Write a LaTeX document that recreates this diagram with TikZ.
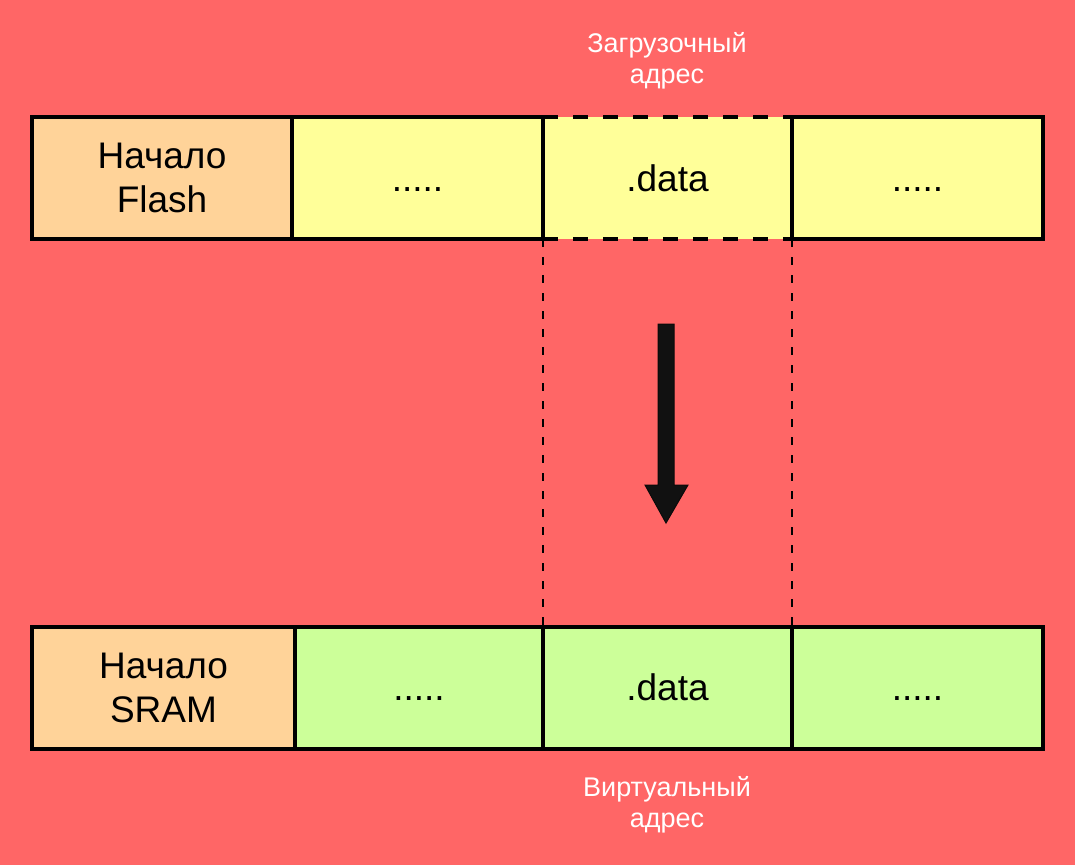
\documentclass[tikz,border=0pt]{standalone}
\usepackage{fontspec}
\setmainfont{Liberation Sans}
\begin{document}
\begin{tikzpicture}[x=1pt,y=-1pt,
  cell/.style={draw=black,line width=4pt,outer sep=0pt,minimum height=122pt,inner sep=0pt,align=center,font=\fontsize{37}{44}\selectfont},
  lbl/.style={text=white,align=center,font=\fontsize{27}{31}\selectfont},
  bold dash/.style={line width=4pt,dash pattern=on 15pt off 15pt},
  guide/.style={line width=2pt,dash pattern=on 8pt off 10pt}]
\definecolor{bg}{HTML}{FF6666}
\definecolor{peach}{HTML}{FFD399}
\definecolor{yel}{HTML}{FFFF99}
\definecolor{grn}{HTML}{CCFF99}
\fill[bg] (0,0) rectangle (1075,865);
\useasboundingbox (0,0) rectangle (1075,865);
% top row
\node[cell,fill=peach,minimum width=260pt] (f1) at (162,178) {Начало\\Flash};
\node[cell,fill=yel,minimum width=251pt] (f2) at (417.5,178) {.....\vphantom{.data}};
\node[cell,fill=yel,draw=none,minimum width=249pt] (f3) at (667.5,178) {.data};
\node[cell,fill=yel,minimum width=251pt] (f4) at (917.5,178) {.....\vphantom{.data}};
\draw[line width=4pt] (f3.north west) -- (f3.south west);
\draw[bold dash] (f3.north west) -- (f3.north east);
\draw[bold dash] (f3.south west) -- (f3.south east);
% bottom row
\node[cell,fill=peach,minimum width=263pt] (s1) at (163.5,687.5) {Начало\\SRAM};
\node[cell,fill=grn,minimum width=248pt] (s2) at (419,687.5) {.....\vphantom{.data}};
\node[cell,fill=grn,minimum width=249pt] (s3) at (667.5,687.5) {.data};
\node[cell,fill=grn,minimum width=251pt] (s4) at (917.5,687.5) {.....\vphantom{.data}};
% guides
\draw[guide] (f3.south west) -- (s3.north west);
\draw[guide] (f3.south east) -- (s3.north east);
% labels
\node[lbl] (la) at (667,61) {Загрузочный\\адрес};
\node[lbl] (lb) at (667,805) {Виртуальный\\адрес};
% arrow
\coordinate (a1) at (658,324);
\coordinate (a2) at (674,324);
\coordinate (a3) at (674,485);
\coordinate (a4) at (688,485);
\coordinate (tip) at (666,523);
\coordinate (a6) at (645,485);
\coordinate (a7) at (658,485);
\draw[fill={rgb,255:red,17;green,17;blue,17},draw={rgb,255:red,10;green,10;blue,10},line width=1pt,line join=miter]
  (a1) -- (a2) -- (a3) -- (a4) -- (tip) -- (a6) -- (a7) -- cycle;
\end{tikzpicture}
\end{document}
